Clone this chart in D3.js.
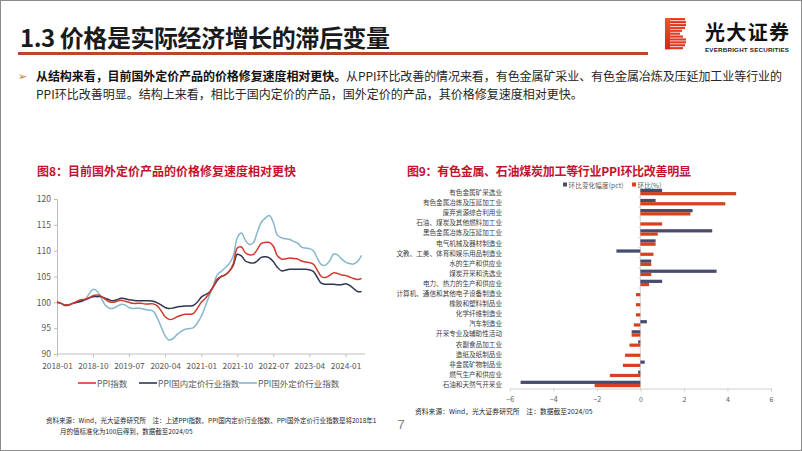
<!DOCTYPE html>
<html><head><meta charset="utf-8">
<script src="https://cdn.jsdelivr.net/npm/d3@7"></script>
<style>
body{margin:0;background:#fff;}
svg{display:block;font-family:"Noto Sans CJK SC","Noto Sans",sans-serif;}
</style></head><body>
<svg id="c" width="802" height="451"></svg>
<script>
// ---------- Data: Figure 8 (monthly, 2018-01 .. 2024-05) ----------
const startMonth = "2018-01";
const lineTickLabels = ["2018-01","2018-10","2019-07","2020-04","2021-01","2021-10","2022-07","2023-04","2024-01"];
const yTickValues = [90,95,100,105,110,115,120];
const seriesNames = ["PPI指数","PPI国内定价行业指数","PPI国外定价行业指数"];
const ppi = [100.0,99.8,99.5,99.5,99.8,100.2,100.5,100.6,100.9,101.3,101.4,101.2,
  100.6,100.1,100.0,100.2,100.4,100.2,100.0,99.8,99.8,99.8,99.7,99.7,
  99.7,99.3,98.4,97.2,96.7,96.8,97.2,97.5,97.7,97.7,97.8,98.8,
  100.0,100.8,101.7,103.0,104.5,105.0,105.3,106.0,107.5,110.5,110.7,109.6,
  109.2,109.3,110.2,111.4,111.6,111.6,110.9,109.0,108.4,108.4,108.6,108.5,
  108.4,108.0,107.8,107.7,107.4,106.2,105.0,104.8,105.2,105.7,105.6,105.3,
  105.2,104.9,104.6,104.4,104.6];
const ppiDomestic = [100.0,99.8,99.4,99.5,99.8,100.0,100.2,100.5,100.8,101.1,101.1,101.1,
  100.8,100.5,100.3,100.5,100.8,100.7,100.5,100.4,100.3,100.3,100.3,100.3,
  100.2,99.9,99.5,99.0,98.8,98.9,99.1,99.2,99.3,99.3,99.4,100.0,
  101.0,101.5,101.9,103.0,104.2,105.0,105.3,106.0,107.2,109.3,109.0,108.0,
  107.7,107.6,108.0,108.7,108.8,108.6,107.9,106.8,106.1,106.2,106.4,106.4,
  106.4,106.4,106.4,106.3,106.0,104.8,103.7,103.5,103.5,103.5,103.4,103.4,
  103.6,103.3,102.7,102.1,102.1];
const ppiForeign = [100.0,99.8,99.5,99.5,99.8,100.0,100.1,100.5,101.6,102.5,102.2,101.0,
  99.5,98.9,98.8,99.2,99.6,99.5,99.0,98.8,98.9,98.8,98.6,98.5,
  98.3,97.0,95.3,93.5,92.7,93.0,93.8,94.4,94.8,94.9,95.1,96.0,
  97.3,99.3,101.2,103.2,105.3,106.0,106.7,107.5,109.0,112.5,113.4,112.0,
  111.2,111.6,113.5,115.5,116.3,116.8,115.5,113.0,112.5,112.3,112.2,111.8,
  111.5,110.7,110.5,110.4,110.0,108.5,107.3,107.2,108.0,109.3,109.2,108.4,
  107.8,107.5,107.4,107.9,109.1];

// ---------- Data: Figure 9 ----------
const industries = ["有色金属矿采选业","有色金属冶炼及压延加工业","废弃资源综合利用业","石油、煤炭及其他燃料加工业",
  "黑色金属冶炼及压延加工业","电气机械及器材制造业","文教、工美、体育和娱乐用品制造业","水的生产和供应业",
  "煤炭开采和洗选业","电力、热力的生产和供应业","计算机、通信和其他电子设备制造业","橡胶和塑料制品业",
  "化学纤维制造业","汽车制造业","开采专业及辅助性活动","农副食品加工业","造纸及纸制品业",
  "非金属矿物制品业","燃气生产和供应业","石油和天然气开采业"];
const momChange = [1.0,0.7,2.4,0.0,3.3,0.7,-1.1,0.5,3.5,1.0,0.0,0.0,0.0,0.3,-0.4,-0.1,0.0,0.2,-0.1,-5.5];
const mom = [4.4,3.9,2.3,1.0,0.8,0.7,0.6,0.5,0.5,0.4,-0.2,-0.2,-0.2,-0.3,-0.4,-0.5,-0.7,-0.8,-1.4,-2.1];
const barSeries = ["环比变化幅度(pct)","环比(%)"];
const barTicks = [-6,-4,-2,0,2,4,6];

const svg = d3.select("#c");
const lineColors = ["#D2392B","#2F3651","#86B7CC"];
const barColors = ["#474B6E","#D4421E"];

// ---------- Slide frame & header ----------
svg.append("rect").attr("x",0.5).attr("y",0.5).attr("width",801).attr("height",450)
  .attr("fill","#fff").attr("stroke","#8C8C8C").attr("stroke-width",1);
svg.append("text").attr("x",20).attr("y",36).attr("dominant-baseline","central")
  .attr("font-size",24).attr("font-weight",700).attr("fill","#1a1a1a").attr("textLength",370)
  .text("1.3 价格是实际经济增长的滞后变量");
svg.append("rect").attr("x",18).attr("y",52).attr("width",630).attr("height",3).attr("fill","#B9472F");

// logo
const defs = svg.append("defs");
const lg = defs.append("linearGradient").attr("id","lg").attr("x1",0).attr("y1",0).attr("x2",0).attr("y2",1);
lg.append("stop").attr("offset","0%").attr("stop-color","#F0562A");
lg.append("stop").attr("offset","100%").attr("stop-color","#D8221E");
const logoW = [20,21,21,20,17,15,18,21,21,20,18];
const logoG = svg.append("g").attr("fill","url(#lg)");
logoW.forEach((w,i)=>{
  logoG.append("rect").attr("x",665).attr("y",18+i*2.9).attr("width",w).attr("height",2.2);
});
logoG.append("rect").attr("x",665).attr("y",18).attr("width",5).attr("height",31.3);
svg.append("text").attr("x",705).attr("y",31).attr("dominant-baseline","central")
  .attr("font-size",20).attr("font-weight",700).attr("fill","#111").attr("textLength",84).text("光大证券");
svg.append("text").attr("x",705).attr("y",49).attr("dominant-baseline","central")
  .attr("font-size",6.2).attr("font-weight",700).attr("fill","#222")
  .attr("font-family","Liberation Sans, Arial, sans-serif").attr("textLength",84).text("EVERBRIGHT SECURITIES");

// bullet text
svg.append("text").attr("x",18).attr("y",75).attr("dominant-baseline","central")
  .attr("font-size",11).attr("fill","#E07020").text("➢");
const t1 = svg.append("text").attr("x",36).attr("y",75).attr("dominant-baseline","central")
  .attr("font-size",12).attr("fill","#262626").attr("textLength",746);
t1.append("tspan").attr("font-weight",700).attr("fill","#111").text("从结构来看，目前国外定价产品的价格修复速度相对更快。");
t1.append("tspan").text("从PPI环比改善的情况来看，有色金属矿采业、有色金属冶炼及压延加工业等行业的");
svg.append("text").attr("x",36).attr("y",93).attr("dominant-baseline","central")
  .attr("font-size",12).attr("fill","#262626")
  .text("PPI环比改善明显。结构上来看，相比于国内定价的产品，国外定价的产品，其价格修复速度相对更快。");

// chart titles
svg.append("text").attr("x",37).attr("y",170).attr("dominant-baseline","central")
  .attr("font-size",12).attr("font-weight",700).attr("fill","#C8102E")
  .text("图8：目前国外定价产品的价格修复速度相对更快");
svg.append("text").attr("x",407).attr("y",170).attr("dominant-baseline","central")
  .attr("font-size",12).attr("font-weight",700).attr("fill","#C8102E").attr("textLength",284)
  .text("图9：有色金属、石油煤炭加工等行业PPI环比改善明显");

// ---------- Figure 8: line chart ----------
const parse = d3.timeParse("%Y-%m");
const t0 = parse(startMonth);
const dates = ppi.map((_,i)=>d3.timeMonth.offset(t0,i));
const x = d3.scaleTime().domain([dates[0], dates[dates.length-1]]).range([57, 361.5]);
const y = d3.scaleLinear().domain([90,120]).range([354,199]);

const axCol = "#BFBFBF", lblCol = "#595959";
const gy = svg.append("g").attr("transform","translate(57,0)")
  .call(d3.axisLeft(y).tickValues(yTickValues).tickSize(3).tickPadding(3).tickFormat(d3.format("d")));
gy.select(".domain").attr("stroke",axCol);
gy.selectAll(".tick line").attr("stroke",axCol);
gy.selectAll("text").attr("font-size",8.5).attr("fill",lblCol).attr("font-family","Noto Sans CJK SC");

const gx = svg.append("g").attr("transform","translate(0,354)")
  .call(d3.axisBottom(x).tickValues(lineTickLabels.map(parse)).tickSize(3).tickSizeOuter(0).tickPadding(6)
    .tickFormat(d3.timeFormat("%Y-%m")));
gx.select(".domain").attr("stroke",axCol).attr("d","M57,0H365");
gx.selectAll(".tick line").attr("stroke",axCol);
gx.selectAll("text").attr("font-size",8.3).attr("fill",lblCol).attr("font-family","Noto Sans CJK SC");

const line = d3.line().x((d,i)=>x(dates[i])).y(d=>y(d)).curve(d3.curveCatmullRom.alpha(0.5));
[ppiForeign, ppiDomestic, ppi].forEach((s,k)=>{
  const ci = [2,1,0][k];
  svg.append("path").attr("d",line(s)).attr("fill","none")
    .attr("stroke",lineColors[ci]).attr("stroke-width",1.5).attr("stroke-linejoin","round");
});

// legend
const legX = [78,139,239];
seriesNames.forEach((n,i)=>{
  svg.append("line").attr("x1",legX[i]).attr("x2",legX[i]+18).attr("y1",383).attr("y2",383)
    .attr("stroke",lineColors[i]).attr("stroke-width",1.6);
  svg.append("text").attr("x",legX[i]+19).attr("y",383).attr("dominant-baseline","central")
    .attr("font-size",8.5).attr("fill",lblCol).text(n);
});

// ---------- Figure 9: bar chart ----------
const xb = d3.scaleLinear().domain([-6,6]).range([509.7, 771]);
const yb = d3.scaleBand().domain(industries).range([187, 389]).paddingInner(0.36).paddingOuter(0.18);
const ys = d3.scaleBand().domain(barSeries).range([0, yb.bandwidth()]);

// bottom axis
const gxb = svg.append("g").attr("transform","translate(0,388.5)")
  .call(d3.axisBottom(xb).tickValues(barTicks).tickSize(3).tickSizeOuter(0).tickPadding(6).tickFormat(d3.format("d")));
gxb.select(".domain").attr("stroke","#D0D0D0");
gxb.selectAll(".tick line").attr("stroke","#D0D0D0");
gxb.selectAll("text").attr("font-size",7).attr("fill",lblCol).attr("font-family","Noto Sans CJK SC");

// zero category axis
svg.append("line").attr("x1",xb(0)).attr("x2",xb(0)).attr("y1",187).attr("y2",389)
  .attr("stroke","#D0D0D0").attr("stroke-width",0.8);
industries.forEach((c,i)=>{
  const yy = yb(c) - yb.step()*yb.paddingInner()/2;
  svg.append("line").attr("x1",xb(0)-2).attr("x2",xb(0)).attr("y1",yy).attr("y2",yy)
    .attr("stroke","#D0D0D0").attr("stroke-width",0.8);
});

const bars = [momChange, mom];
bars.forEach((vals,k)=>{
  svg.append("g").selectAll("rect").data(vals).join("rect")
    .attr("x",d=>xb(Math.min(0,d)))
    .attr("width",d=>Math.abs(xb(d)-xb(0)))
    .attr("y",(d,i)=>yb(industries[i]) + ys(barSeries[k]))
    .attr("height",ys.bandwidth())
    .attr("fill",barColors[k]);
});

// category labels
svg.append("g").selectAll("text").data(industries).join("text")
  .attr("x",502).attr("y",d=>yb(d)+yb.bandwidth()/2).attr("text-anchor","end")
  .attr("dominant-baseline","central").attr("font-size",6.6).attr("fill","#404040").text(d=>d);

// bar legend
const blx = [563, 632];
const blw = [55, 24];
barSeries.forEach((n,i)=>{
  svg.append("rect").attr("x",blx[i]).attr("y",182.5).attr("width",4).attr("height",4).attr("fill",barColors[i]);
  svg.append("text").attr("x",blx[i]+5.5).attr("y",184.5).attr("dominant-baseline","central")
    .attr("font-size",6.6).attr("fill",lblCol).attr("textLength",blw[i]).text(n);
});

// ---------- Notes ----------
svg.append("text").attr("x",46).attr("y",420).attr("dominant-baseline","central")
  .attr("font-size",6.5).attr("fill","#262626")
  .text("资料来源：Wind，光大证券研究所　注：上述PPI指数、PPI国内定价行业指数、PPI国外定价行业指数是将2018年1");
svg.append("text").attr("x",60).attr("y",431).attr("dominant-baseline","central")
  .attr("font-size",6.5).attr("fill","#262626")
  .text("月的值标准化为100后得到，数据截至2024/05");
svg.append("text").attr("x",415).attr("y",411).attr("dominant-baseline","central")
  .attr("font-size",6.8).attr("fill","#262626")
  .text("资料来源：Wind，光大证券研究所　注：数据截至2024/05");
svg.append("text").attr("x",401).attr("y",424).attr("dominant-baseline","central").attr("text-anchor","middle")
  .attr("font-size",13).attr("fill","#7F7F7F").attr("font-family","Liberation Sans, sans-serif").text("7");
</script>
</body></html>
